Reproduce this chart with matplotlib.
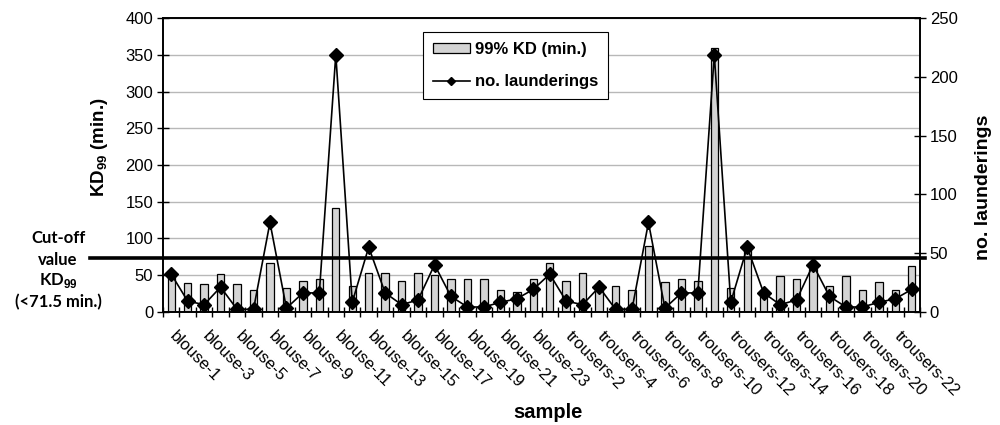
import matplotlib
matplotlib.use('Agg')
import matplotlib.pyplot as plt
import matplotlib.transforms as mtransforms
from matplotlib.patches import Patch
from matplotlib.lines import Line2D

plt.rcParams['font.family'] = ['Liberation Sans', 'DejaVu Sans']
plt.rcParams['mathtext.fontset'] = 'custom'
plt.rcParams['mathtext.rm'] = 'Liberation Sans'
plt.rcParams['mathtext.bf'] = 'Liberation Sans:bold'

# data
samples = ['blouse-%d' % i for i in range(1, 24)] + ['trousers-%d' % i for i in range(1, 24)]
kd99 = [51, 39, 38, 52, 38, 30, 67, 32, 42, 44, 142, 35, 53, 53, 42, 53, 50, 44, 44, 44, 30, 27, 44,
        67, 42, 53, 37, 35, 30, 89, 40, 44, 42, 360, 32, 86, 25, 48, 45, 58, 35, 48, 30, 40, 30, 62]
launderings = [32, 9, 6, 21, 2, 2, 76, 3, 16, 16, 219, 8, 55, 16, 6, 10, 40, 13, 4, 4, 8, 11, 19,
               32, 9, 6, 21, 2, 2, 76, 3, 16, 16, 219, 8, 55, 16, 6, 10, 40, 13, 4, 4, 8, 11, 19]
cutoff = 73.5  # drawn position of the cut-off line (label says <71.5 min.)

x = list(range(len(samples)))

fig = plt.figure(figsize=(10, 4.25), dpi=100)
ax = fig.add_axes([0.163, 0.2666, 0.757, 0.6904])
ax2 = ax.twinx()

ax.set_axisbelow(True)
ax.yaxis.grid(True, color='#b8b8b8', lw=1)
ax.bar(x, kd99, width=0.45, color='#d4d4d4', edgecolor='black', linewidth=0.9)
ax2.plot(x, launderings, color='black', lw=1.2, marker='D', markersize=7)

ax.set_xlim(-0.5, len(samples) - 0.5)
ax.set_ylim(0, 400)
ax.set_yticks(range(0, 401, 50))
ax2.set_ylim(0, 250)
ax2.set_yticks(range(0, 251, 50))

# every second sample is labelled, text starts a little right of the bar
ax.set_xticks([i + 0.4 for i in x[::2]])
ax.set_xticklabels(samples[::2], rotation=-45, ha='left', va='top', rotation_mode='anchor', fontsize=12)
ax.set_xticks([i - 0.5 for i in range(len(samples) + 1)], minor=True)
ax.tick_params(axis='x', which='major', length=0, pad=12)
ax.tick_params(axis='x', which='minor', direction='inout', length=7, width=1)
ax.tick_params(axis='y', direction='inout', length=8, width=1, labelsize=12, pad=3)
ax2.tick_params(axis='y', direction='inout', length=8, width=1, labelsize=12, pad=3)
for a in (ax, ax2):
    for s in a.spines.values():
        s.set_linewidth(1.2)

# cut-off line across the figure
trans = mtransforms.blended_transform_factory(fig.transFigure, ax.transData)
ax.plot([0.09, 0.925], [cutoff, cutoff], color='black', lw=2.6, transform=trans, clip_on=False, zorder=5)

handles = [Patch(facecolor='#d4d4d4', edgecolor='black', linewidth=0.9),
           Line2D([], [], color='black', lw=1.2, marker='D', markersize=4.5)]
leg = ax2.legend(handles, ['99% KD (min.)', 'no. launderings'], loc='upper left',
                 bbox_to_anchor=(0.3435, 0.9536), borderaxespad=0, fancybox=False,
                 edgecolor='black', framealpha=1, prop={'weight': 'bold', 'size': 12},
                 handlelength=2.2, handleheight=0.55, handletextpad=0.3, labelspacing=1.05,
                 borderpad=0.6)
leg.get_frame().set_linewidth(0.8)

fig.text(0.100, 1 - 147 / 425, 'KD$_{\\mathbf{99}}$ (min.)', rotation=90, ha='center', va='center',
         fontsize=13.5, fontweight='bold')
fig.text(0.983, 1 - 187 / 425, 'no. launderings', rotation=90, ha='center', va='center',
         fontsize=14, fontweight='bold')
fig.text(0.548, 1 - 412 / 425, 'sample', ha='center', va='center', fontsize=14.5, fontweight='bold')

cut = dict(ha='center', va='center', fontsize=12, fontweight='bold', family=['Lato', 'DejaVu Sans'])
fig.text(0.058, 1 - 238 / 425, 'Cut-off', **cut)
fig.text(0.058, 1 - 260 / 425, 'value', **cut)
fig.text(0.058, 1 - 281 / 425, 'KD$_{\\mathbf{99}}$', **cut)
fig.text(0.058, 1 - 302 / 425, '(<71.5 min.)', **cut)

fig.savefig('out.png', dpi=100)
